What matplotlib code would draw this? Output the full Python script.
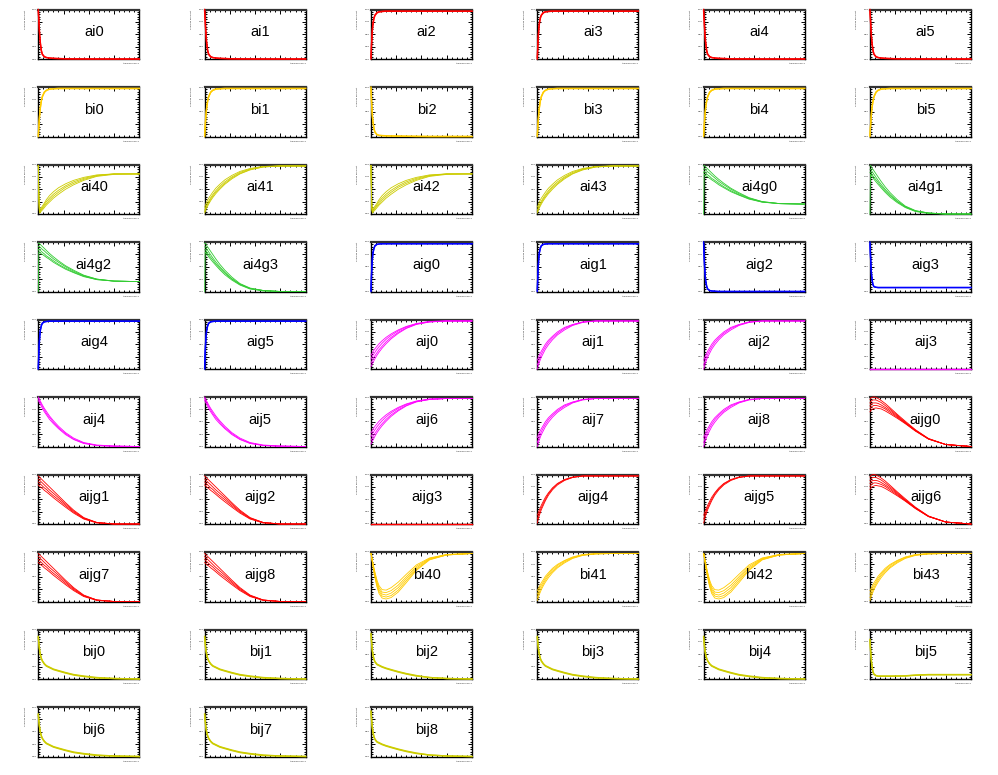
import matplotlib
matplotlib.use("Agg")
import matplotlib.pyplot as plt
from matplotlib.ticker import MultipleLocator, AutoMinorLocator

# ---- data (normalised to the y range of each pad) ----
X = [0, 0.5, 1, 1.5, 2, 3, 4, 6, 8, 11, 15, 20, 27, 35, 45, 58, 75, 100]

AI_FAST_DECAY = [
    [1.00, 0.82, 0.62, 0.46, 0.34, 0.18, 0.10, 0.05, 0.03, 0.02, 0.015, 0.01, 0.005, 0.003, 0.002, 0.001, 0.0, 0.0],
    [0.96, 0.78, 0.58, 0.43, 0.31, 0.16, 0.09, 0.04, 0.03, 0.02, 0.010, 0.008, 0.004, 0.002, 0.001, 0.0, 0.0, 0.0],
]
AI_FAST_RISE = [
    [0.00, 0.25, 0.45, 0.60, 0.70, 0.82, 0.88, 0.93, 0.95, 0.96, 0.965, 0.965, 0.965, 0.965, 0.965, 0.965, 0.965, 0.965],
    [0.03, 0.28, 0.48, 0.63, 0.73, 0.84, 0.89, 0.94, 0.955, 0.96, 0.965, 0.965, 0.965, 0.965, 0.965, 0.965, 0.965, 0.965],
]
BI_FAST_RISE = [
    [0.00, 0.18, 0.34, 0.47, 0.57, 0.71, 0.80, 0.89, 0.93, 0.955, 0.965, 0.97, 0.97, 0.97, 0.97, 0.97, 0.97, 0.97],
    [0.02, 0.20, 0.36, 0.49, 0.59, 0.73, 0.81, 0.90, 0.935, 0.96, 0.965, 0.97, 0.97, 0.97, 0.97, 0.97, 0.97, 0.97],
]
BI_FAST_DECAY = [
    [1.00, 0.75, 0.55, 0.40, 0.30, 0.16, 0.09, 0.04, 0.025, 0.02, 0.015, 0.01, 0.01, 0.005, 0.005, 0.0, 0.0, 0.0],
    [0.97, 0.72, 0.52, 0.38, 0.28, 0.15, 0.08, 0.035, 0.02, 0.015, 0.01, 0.01, 0.005, 0.005, 0.0, 0.0, 0.0, 0.0],
]
AI4_PLATEAU = [
    [0.98, 0.40, 0.10, 0.06, 0.07, 0.10, 0.13, 0.19, 0.25, 0.32, 0.40, 0.48, 0.57, 0.65, 0.72, 0.78, 0.81, 0.81],
    [0.98, 0.38, 0.08, 0.04, 0.05, 0.08, 0.11, 0.16, 0.21, 0.28, 0.36, 0.44, 0.54, 0.62, 0.70, 0.77, 0.81, 0.81],
    [0.98, 0.42, 0.12, 0.09, 0.10, 0.13, 0.16, 0.22, 0.29, 0.37, 0.45, 0.53, 0.61, 0.68, 0.74, 0.79, 0.81, 0.81],
    [0.98, 0.36, 0.06, 0.02, 0.03, 0.06, 0.08, 0.13, 0.18, 0.24, 0.32, 0.40, 0.50, 0.59, 0.68, 0.76, 0.80, 0.81],
]
AI4_RISE = [
    [0.02, 0.04, 0.07, 0.10, 0.12, 0.16, 0.20, 0.27, 0.33, 0.41, 0.50, 0.60, 0.71, 0.81, 0.89, 0.95, 0.97, 0.97],
    [0.08, 0.10, 0.13, 0.16, 0.18, 0.22, 0.26, 0.33, 0.39, 0.47, 0.56, 0.65, 0.75, 0.84, 0.91, 0.96, 0.97, 0.97],
    [0.14, 0.16, 0.19, 0.22, 0.24, 0.28, 0.32, 0.38, 0.44, 0.52, 0.60, 0.69, 0.78, 0.86, 0.92, 0.96, 0.97, 0.97],
    [0.05, 0.07, 0.10, 0.13, 0.15, 0.19, 0.23, 0.30, 0.36, 0.44, 0.53, 0.62, 0.73, 0.82, 0.90, 0.95, 0.97, 0.97],
]
AI4G_PLATEAU = [
    [0.97, 0.98, 0.97, 0.96, 0.95, 0.93, 0.91, 0.87, 0.83, 0.77, 0.70, 0.62, 0.52, 0.43, 0.33, 0.25, 0.21, 0.20],
    [0.90, 0.92, 0.91, 0.90, 0.89, 0.87, 0.85, 0.82, 0.78, 0.73, 0.66, 0.59, 0.50, 0.41, 0.32, 0.25, 0.21, 0.20],
    [0.83, 0.86, 0.85, 0.84, 0.83, 0.81, 0.79, 0.76, 0.72, 0.68, 0.62, 0.55, 0.47, 0.39, 0.31, 0.24, 0.21, 0.20],
    [0.00, 0.80, 0.80, 0.79, 0.78, 0.76, 0.75, 0.72, 0.69, 0.65, 0.59, 0.53, 0.45, 0.38, 0.30, 0.24, 0.21, 0.20],
]
AI4G_DECAY = [
    [0.97, 0.98, 0.97, 0.95, 0.93, 0.90, 0.87, 0.81, 0.75, 0.66, 0.55, 0.43, 0.29, 0.16, 0.07, 0.02, 0.0, 0.0],
    [0.90, 0.91, 0.90, 0.88, 0.86, 0.83, 0.80, 0.74, 0.68, 0.60, 0.50, 0.39, 0.26, 0.15, 0.06, 0.02, 0.0, 0.0],
    [0.84, 0.85, 0.84, 0.82, 0.80, 0.77, 0.74, 0.69, 0.64, 0.56, 0.47, 0.37, 0.25, 0.14, 0.06, 0.02, 0.0, 0.0],
    [0.00, 0.80, 0.79, 0.78, 0.76, 0.73, 0.70, 0.65, 0.60, 0.53, 0.44, 0.34, 0.23, 0.13, 0.05, 0.01, 0.0, 0.0],
]
AIG_RISE = [
    [0.00, 0.30, 0.52, 0.67, 0.77, 0.87, 0.92, 0.95, 0.96, 0.965, 0.965, 0.965, 0.965, 0.965, 0.965, 0.965, 0.965, 0.965],
    [0.02, 0.33, 0.55, 0.70, 0.79, 0.88, 0.93, 0.955, 0.96, 0.965, 0.965, 0.965, 0.965, 0.965, 0.965, 0.965, 0.965, 0.965],
]
AIG_DECAY = [
    [1.00, 0.72, 0.50, 0.34, 0.23, 0.11, 0.05, 0.02, 0.01, 0.005, 0.0, 0.0, 0.0, 0.0, 0.0, 0.0, 0.0, 0.0],
    [0.96, 0.69, 0.47, 0.32, 0.21, 0.10, 0.05, 0.02, 0.01, 0.005, 0.0, 0.0, 0.0, 0.0, 0.0, 0.0, 0.0, 0.0],
]
AIG_FLOOR = [
    [1.00, 0.75, 0.52, 0.36, 0.25, 0.14, 0.10, 0.085, 0.08, 0.08, 0.08, 0.08, 0.08, 0.08, 0.08, 0.08, 0.08, 0.08],
    [0.96, 0.72, 0.50, 0.34, 0.24, 0.13, 0.095, 0.085, 0.08, 0.08, 0.08, 0.08, 0.08, 0.08, 0.08, 0.08, 0.08, 0.08],
]
AIJ_WIDE = [
    [0.05, 0.07, 0.09, 0.11, 0.13, 0.17, 0.21, 0.28, 0.34, 0.42, 0.51, 0.61, 0.72, 0.82, 0.90, 0.95, 0.97, 0.97],
    [0.12, 0.14, 0.16, 0.18, 0.20, 0.24, 0.27, 0.33, 0.39, 0.46, 0.55, 0.64, 0.74, 0.83, 0.91, 0.95, 0.97, 0.97],
    [0.20, 0.22, 0.24, 0.26, 0.28, 0.31, 0.34, 0.40, 0.45, 0.52, 0.60, 0.68, 0.77, 0.85, 0.91, 0.96, 0.97, 0.97],
    [0.28, 0.29, 0.31, 0.33, 0.35, 0.38, 0.41, 0.46, 0.51, 0.57, 0.64, 0.71, 0.79, 0.86, 0.92, 0.96, 0.97, 0.97],
]
AIJ_TIGHT = [
    [0.00, 0.03, 0.07, 0.10, 0.13, 0.19, 0.24, 0.32, 0.40, 0.49, 0.59, 0.69, 0.79, 0.88, 0.94, 0.97, 0.97, 0.97],
    [0.08, 0.11, 0.14, 0.17, 0.20, 0.25, 0.30, 0.38, 0.45, 0.54, 0.63, 0.72, 0.82, 0.89, 0.95, 0.97, 0.97, 0.97],
    [0.18, 0.20, 0.23, 0.25, 0.28, 0.32, 0.36, 0.43, 0.50, 0.58, 0.66, 0.75, 0.84, 0.90, 0.95, 0.97, 0.97, 0.97],
]
AIJ_DECAY = [
    [1.00, 0.98, 0.96, 0.94, 0.92, 0.88, 0.84, 0.77, 0.71, 0.62, 0.52, 0.41, 0.28, 0.17, 0.08, 0.03, 0.01, 0.0],
    [0.97, 0.95, 0.93, 0.91, 0.89, 0.85, 0.81, 0.74, 0.67, 0.59, 0.49, 0.38, 0.26, 0.15, 0.07, 0.02, 0.01, 0.0],
    [0.93, 0.91, 0.89, 0.87, 0.85, 0.81, 0.77, 0.70, 0.64, 0.55, 0.46, 0.36, 0.24, 0.14, 0.06, 0.02, 0.0, 0.0],
]
FLAT_ZERO = [
    [0.0, 0.0, 0.0, 0.0, 0.0, 0.0, 0.0, 0.0, 0.0, 0.0, 0.0, 0.0, 0.0, 0.0, 0.0, 0.0, 0.0, 0.0],
]
AIJG_PEAK = [
    [0.95, 0.97, 0.98, 0.99, 0.99, 1.00, 1.00, 0.99, 0.97, 0.93, 0.87, 0.78, 0.65, 0.51, 0.34, 0.16, 0.04, 0.0],
    [0.88, 0.90, 0.91, 0.92, 0.93, 0.94, 0.94, 0.94, 0.92, 0.89, 0.83, 0.75, 0.63, 0.49, 0.33, 0.16, 0.04, 0.0],
    [0.82, 0.84, 0.85, 0.86, 0.87, 0.88, 0.88, 0.88, 0.87, 0.84, 0.79, 0.72, 0.61, 0.48, 0.32, 0.15, 0.04, 0.0],
    [0.76, 0.78, 0.79, 0.80, 0.81, 0.82, 0.83, 0.83, 0.82, 0.80, 0.76, 0.69, 0.59, 0.47, 0.32, 0.15, 0.04, 0.0],
    [0.70, 0.72, 0.73, 0.74, 0.75, 0.76, 0.77, 0.78, 0.77, 0.76, 0.72, 0.66, 0.57, 0.46, 0.31, 0.15, 0.04, 0.0],
]
AIJG_DECAY = [
    [0.97, 0.96, 0.95, 0.94, 0.93, 0.91, 0.89, 0.85, 0.81, 0.75, 0.67, 0.57, 0.43, 0.28, 0.13, 0.03, 0.0, 0.0],
    [0.91, 0.90, 0.89, 0.88, 0.87, 0.85, 0.83, 0.79, 0.75, 0.69, 0.62, 0.53, 0.40, 0.26, 0.12, 0.03, 0.0, 0.0],
    [0.85, 0.84, 0.83, 0.82, 0.81, 0.79, 0.77, 0.73, 0.70, 0.64, 0.57, 0.49, 0.37, 0.24, 0.11, 0.03, 0.0, 0.0],
    [0.79, 0.78, 0.77, 0.76, 0.75, 0.73, 0.72, 0.68, 0.65, 0.60, 0.53, 0.45, 0.34, 0.22, 0.10, 0.02, 0.0, 0.0],
]
AIJG_RISE = [
    [0.02, 0.06, 0.10, 0.14, 0.17, 0.23, 0.29, 0.38, 0.47, 0.58, 0.69, 0.79, 0.88, 0.94, 0.97, 0.97, 0.97, 0.97],
    [0.10, 0.13, 0.16, 0.19, 0.22, 0.28, 0.33, 0.42, 0.50, 0.61, 0.71, 0.81, 0.89, 0.94, 0.97, 0.97, 0.97, 0.97],
    [0.18, 0.20, 0.23, 0.26, 0.28, 0.33, 0.38, 0.46, 0.54, 0.63, 0.73, 0.82, 0.90, 0.95, 0.97, 0.97, 0.97, 0.97],
]
BI4_DIP = [
    [0.97, 0.93, 0.88, 0.83, 0.78, 0.68, 0.59, 0.43, 0.32, 0.24, 0.23, 0.28, 0.39, 0.55, 0.74, 0.88, 0.95, 0.97],
    [0.97, 0.92, 0.87, 0.81, 0.76, 0.65, 0.56, 0.39, 0.28, 0.19, 0.18, 0.22, 0.33, 0.50, 0.71, 0.87, 0.95, 0.97],
    [0.97, 0.92, 0.86, 0.80, 0.74, 0.63, 0.53, 0.36, 0.24, 0.15, 0.13, 0.17, 0.28, 0.46, 0.68, 0.86, 0.94, 0.97],
    [0.97, 0.91, 0.85, 0.78, 0.72, 0.60, 0.50, 0.32, 0.20, 0.11, 0.09, 0.12, 0.23, 0.42, 0.65, 0.85, 0.94, 0.97],
    [0.97, 0.91, 0.84, 0.77, 0.70, 0.58, 0.47, 0.29, 0.16, 0.07, 0.05, 0.08, 0.19, 0.38, 0.63, 0.84, 0.94, 0.97],
]
BI4_RISE = [
    [0.02, 0.05, 0.08, 0.11, 0.14, 0.19, 0.24, 0.32, 0.39, 0.48, 0.58, 0.68, 0.78, 0.87, 0.93, 0.96, 0.97, 0.97],
    [0.08, 0.11, 0.14, 0.17, 0.19, 0.24, 0.28, 0.36, 0.43, 0.52, 0.61, 0.70, 0.80, 0.88, 0.94, 0.96, 0.97, 0.97],
    [0.15, 0.17, 0.20, 0.22, 0.25, 0.29, 0.33, 0.40, 0.47, 0.55, 0.64, 0.73, 0.82, 0.89, 0.94, 0.97, 0.97, 0.97],
    [0.22, 0.24, 0.26, 0.28, 0.30, 0.34, 0.38, 0.44, 0.51, 0.58, 0.67, 0.75, 0.83, 0.90, 0.95, 0.97, 0.97, 0.97],
]
BIJ_DECAY = [
    [0.86, 0.74, 0.64, 0.56, 0.50, 0.42, 0.37, 0.31, 0.27, 0.24, 0.20, 0.17, 0.13, 0.09, 0.06, 0.03, 0.01, 0.0],
    [0.84, 0.72, 0.62, 0.55, 0.49, 0.41, 0.36, 0.30, 0.26, 0.23, 0.19, 0.16, 0.12, 0.08, 0.05, 0.02, 0.01, 0.0],
]
BIJ_SLOW = [
    [0.92, 0.78, 0.66, 0.56, 0.49, 0.40, 0.35, 0.30, 0.28, 0.25, 0.22, 0.19, 0.15, 0.11, 0.07, 0.03, 0.01, 0.0],
    [0.90, 0.76, 0.64, 0.55, 0.48, 0.39, 0.34, 0.29, 0.27, 0.24, 0.21, 0.18, 0.14, 0.10, 0.06, 0.03, 0.01, 0.0],
]
BIJ_FLOOR = [
    [0.80, 0.62, 0.47, 0.35, 0.26, 0.15, 0.10, 0.07, 0.06, 0.06, 0.06, 0.06, 0.06, 0.065, 0.08, 0.09, 0.09, 0.09],
    [0.78, 0.60, 0.45, 0.34, 0.25, 0.14, 0.09, 0.065, 0.055, 0.055, 0.055, 0.055, 0.06, 0.06, 0.075, 0.085, 0.085, 0.085],
]

RED = "#ff0000"
GOLD = "#ffcc00"
OLIVE = "#cccc00"
GREEN = "#33cc33"
BLUE = "#0000ff"
MAGENTA = "#ff00ff"

PANELS = [
    ("ai0", AI_FAST_DECAY, RED), ("ai1", AI_FAST_DECAY, RED), ("ai2", AI_FAST_RISE, RED),
    ("ai3", AI_FAST_RISE, RED), ("ai4", AI_FAST_DECAY, RED), ("ai5", AI_FAST_DECAY, RED),
    ("bi0", BI_FAST_RISE, GOLD), ("bi1", BI_FAST_RISE, GOLD), ("bi2", BI_FAST_DECAY, GOLD),
    ("bi3", BI_FAST_RISE, GOLD), ("bi4", BI_FAST_RISE, GOLD), ("bi5", BI_FAST_RISE, GOLD),
    ("ai40", AI4_PLATEAU, OLIVE), ("ai41", AI4_RISE, OLIVE), ("ai42", AI4_PLATEAU, OLIVE),
    ("ai43", AI4_RISE, OLIVE), ("ai4g0", AI4G_PLATEAU, GREEN), ("ai4g1", AI4G_DECAY, GREEN),
    ("ai4g2", AI4G_PLATEAU, GREEN), ("ai4g3", AI4G_DECAY, GREEN), ("aig0", AIG_RISE, BLUE),
    ("aig1", AIG_RISE, BLUE), ("aig2", AIG_DECAY, BLUE), ("aig3", AIG_FLOOR, BLUE),
    ("aig4", AIG_RISE, BLUE), ("aig5", AIG_RISE, BLUE), ("aij0", AIJ_WIDE, MAGENTA),
    ("aij1", AIJ_TIGHT, MAGENTA), ("aij2", AIJ_TIGHT, MAGENTA), ("aij3", FLAT_ZERO, MAGENTA),
    ("aij4", AIJ_DECAY, MAGENTA), ("aij5", AIJ_DECAY, MAGENTA), ("aij6", AIJ_WIDE, MAGENTA),
    ("aij7", AIJ_TIGHT, MAGENTA), ("aij8", AIJ_TIGHT, MAGENTA), ("aijg0", AIJG_PEAK, RED),
    ("aijg1", AIJG_DECAY, RED), ("aijg2", AIJG_DECAY, RED), ("aijg3", FLAT_ZERO, RED),
    ("aijg4", AIJG_RISE, RED), ("aijg5", AIJG_RISE, RED), ("aijg6", AIJG_PEAK, RED),
    ("aijg7", AIJG_DECAY, RED), ("aijg8", AIJG_DECAY, RED), ("bi40", BI4_DIP, GOLD),
    ("bi41", BI4_RISE, GOLD), ("bi42", BI4_DIP, GOLD), ("bi43", BI4_RISE, GOLD),
    ("bij0", BIJ_DECAY, OLIVE), ("bij1", BIJ_DECAY, OLIVE), ("bij2", BIJ_SLOW, OLIVE),
    ("bij3", BIJ_DECAY, OLIVE), ("bij4", BIJ_DECAY, OLIVE), ("bij5", BIJ_FLOOR, OLIVE),
    ("bij6", BIJ_DECAY, OLIVE), ("bij7", BIJ_DECAY, OLIVE), ("bij8", BIJ_SLOW, OLIVE),
]

# ---- layout: 6 x 10 pads, ROOT-canvas style ----
W, H = 998, 775
NCOL, NROW = 6, 10
PAD_W, PAD_H = W / NCOL, H / NROW
AX_L, AX_W, AX_T, AX_H = 38.3, 101.0, 9.5, 49.5

fig = plt.figure(figsize=(W / 100, H / 100), dpi=100)
fig.patch.set_facecolor("white")

for k, (name, curves, color) in enumerate(PANELS):
    r, c = divmod(k, NCOL)
    left = (c * PAD_W + AX_L) / W
    bottom = 1 - (r * PAD_H + AX_T + AX_H) / H
    ax = fig.add_axes([left, bottom, AX_W / W, AX_H / H])

    lw = 0.6 if len(curves) > 2 else 1.0
    for ys in curves:
        ax.plot(X, ys, color=color, lw=lw, clip_on=False, zorder=3)

    ax.set_xlim(0, 100)
    ax.set_ylim(0, 1)
    ax.xaxis.set_major_locator(MultipleLocator(25))
    ax.xaxis.set_minor_locator(AutoMinorLocator(5))
    ax.yaxis.set_major_locator(MultipleLocator(0.25))
    ax.yaxis.set_minor_locator(AutoMinorLocator(5))
    ax.tick_params(which="both", direction="in", top=True, right=True,
                   width=0.7, labelsize=1.6, pad=1)
    ax.tick_params(which="major", length=3.2)
    ax.tick_params(which="minor", length=1.6)
    ax.set_xticklabels([])
    for s in ax.spines.values():
        s.set_linewidth(1.0)
    ax.spines["top"].set_linewidth(1.6)
    ax.spines["top"].set_color("#333333")

    ax.text(0.55, 0.545, name, transform=ax.transAxes, ha="center", va="center",
            fontsize=10.5, family="Liberation Sans")
    ax.text(-0.13, 1.0, "average gradient", transform=ax.transAxes, rotation=90,
            ha="center", va="top", fontsize=1.6, color="#333333")
    ax.text(1.0, -0.08, "training epoch", transform=ax.transAxes,
            ha="right", va="top", fontsize=1.6, color="#333333")

fig.savefig("out.png", dpi=100, facecolor="white")
